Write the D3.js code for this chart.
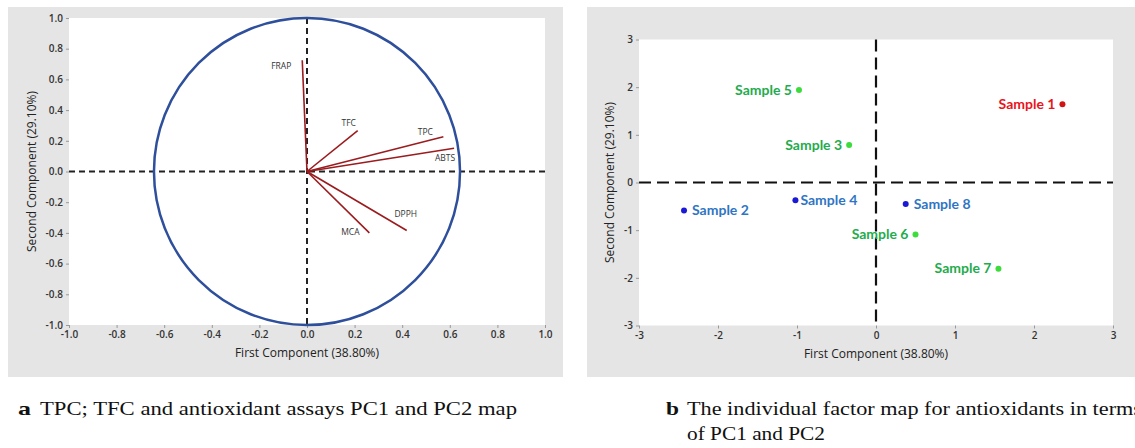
<!DOCTYPE html>
<html lang="en">
<head>
<meta charset="UTF-8">
<title>PCA maps</title>
<script src="https://d3js.org/d3.v7.min.js"></script>
<style>
  body { margin: 0; background: #fff; }
  svg { display: block; }
  .tick text { font-family: "Open Sans", sans-serif; font-size: 10px; fill: #333; font-weight: 600; }
  .tick line { stroke: #999; }
  .domain { display: none; }
</style>
</head>
<body>
<svg id="chart" width="1135" height="448"></svg>
<script>
// Loadings plot (panel a)
const variables = ["FRAP", "TFC", "TPC", "ABTS", "DPPH", "MCA"];
const loadPC1 = [-0.02, 0.213, 0.573, 0.618, 0.419, 0.262];
const loadPC2 = [0.725, 0.267, 0.226, 0.152, -0.384, -0.40];
const loadTicks = [-1.0, -0.8, -0.6, -0.4, -0.2, 0.0, 0.2, 0.4, 0.6, 0.8, 1.0];

// Score plot (panel b)
const samples = ["Sample 1", "Sample 2", "Sample 3", "Sample 4", "Sample 5", "Sample 6", "Sample 7", "Sample 8"];
const scorePC1 = [2.36, -2.43, -0.34, -1.02, -0.975, 0.50, 1.55, 0.376];
const scorePC2 = [1.64, -0.59, 0.786, -0.37, 1.94, -1.09, -1.81, -0.45];
const sampleGroup = ["red", "blue", "green", "blue", "green", "green", "green", "blue"];
const scoreTicks = [-3, -2, -1, 0, 1, 2, 3];

const svg = d3.select("#chart");

// ---------- panel a ----------
svg.append("rect").attr("x", 8).attr("y", 7).attr("width", 555).attr("height", 370).attr("fill", "#e5e5e5");

const xa = d3.scaleLinear().domain([-1, 1]).range([69, 545]);
const ya = d3.scaleLinear().domain([-1, 1]).range([325, 18]);

svg.append("rect")
    .attr("x", xa(-1)).attr("y", ya(1))
    .attr("width", xa(1) - xa(-1)).attr("height", ya(-1) - ya(1))
    .attr("fill", "#fff");

// plain hyphen for negatives, like the original
const fmt1 = d => d.toFixed(1);
svg.append("g")
    .attr("transform", `translate(0,${ya(-1)})`)
    .call(d3.axisBottom(xa).tickValues(loadTicks).tickSize(3).tickFormat(fmt1));
svg.append("g")
    .attr("transform", `translate(${xa(-1)},0)`)
    .call(d3.axisLeft(ya).tickValues(loadTicks).tickSize(3).tickFormat(fmt1));

// dashed reference lines
svg.append("line")
    .attr("x1", xa(-1)).attr("x2", xa(1)).attr("y1", ya(0)).attr("y2", ya(0))
    .attr("stroke", "#222").attr("stroke-width", 2).attr("stroke-dasharray", "6,4");
svg.append("line")
    .attr("x1", xa(0)).attr("x2", xa(0)).attr("y1", ya(1)).attr("y2", ya(-1))
    .attr("stroke", "#222").attr("stroke-width", 2).attr("stroke-dasharray", "6,4");

// circle (round in pixels, so its x radius in data units is smaller)
const circleRx = 0.643;
svg.append("ellipse")
    .attr("cx", xa(0)).attr("cy", ya(0))
    .attr("rx", xa(circleRx) - xa(0)).attr("ry", ya(0) - ya(1))
    .attr("fill", "none").attr("stroke", "#2e4f9b").attr("stroke-width", 2.5);

// loading vectors
const loadData = variables.map((v, i) => ({ name: v, x: loadPC1[i], y: loadPC2[i] }));
svg.selectAll(".vec")
    .data(loadData)
    .enter()
    .append("line")
    .attr("class", "vec")
    .attr("x1", xa(0)).attr("y1", ya(0))
    .attr("x2", d => xa(d.x)).attr("y2", d => ya(d.y))
    .attr("stroke", "#9b1c1f").attr("stroke-width", 1.6);

// label offsets in pixels relative to vector tip
const labelOffset = {
    FRAP: [-21, 7], TFC: [-9, -7], TPC: [-18, -4], ABTS: [-9, 11], DPPH: [-1, -16], MCA: [-19, 0]
};
svg.selectAll(".vlabel")
    .data(loadData)
    .enter()
    .append("text")
    .attr("x", d => xa(d.x) + labelOffset[d.name][0])
    .attr("y", d => ya(d.y) + labelOffset[d.name][1])
    .attr("text-anchor", "middle")
    .attr("dominant-baseline", "middle")
    .attr("font-family", "Open Sans, sans-serif")
    .attr("font-size", "8.5px")
    .attr("fill", "#333")
    .text(d => d.name);

svg.append("text")
    .attr("x", xa(0)).attr("y", 357)
    .attr("text-anchor", "middle")
    .attr("font-family", "Open Sans, sans-serif").attr("font-size", "12px").attr("fill", "#222")
    .text("First Component (38.80%)");
svg.append("text")
    .attr("transform", `translate(36,${ya(0)}) rotate(-90)`)
    .attr("text-anchor", "middle")
    .attr("font-family", "Open Sans, sans-serif").attr("font-size", "12px").attr("fill", "#222")
    .text("Second Component (29.10%)");

// ---------- panel b ----------
svg.append("rect").attr("x", 587).attr("y", 7).attr("width", 548).attr("height", 370).attr("fill", "#e5e5e5");

const xb = d3.scaleLinear().domain([-3, 3]).range([639, 1113]);
const yb = d3.scaleLinear().domain([-3, 3]).range([325.5, 39.5]);

svg.append("rect")
    .attr("x", xb(-3)).attr("y", yb(3))
    .attr("width", xb(3) - xb(-3)).attr("height", yb(-3) - yb(3))
    .attr("fill", "#fff");

svg.append("g")
    .attr("transform", `translate(0,${yb(-3)})`)
    .call(d3.axisBottom(xb).tickValues(scoreTicks).tickSize(3).tickFormat(d => String(d)));
svg.append("g")
    .attr("transform", `translate(${xb(-3)},0)`)
    .call(d3.axisLeft(yb).tickValues(scoreTicks).tickSize(3).tickFormat(d => String(d)));

svg.append("line")
    .attr("x1", xb(-3)).attr("x2", xb(3)).attr("y1", yb(0)).attr("y2", yb(0))
    .attr("stroke", "#111").attr("stroke-width", 2.2).attr("stroke-dasharray", "12,6");
svg.append("line")
    .attr("x1", xb(0)).attr("x2", xb(0)).attr("y1", yb(3)).attr("y2", yb(-3))
    .attr("stroke", "#111").attr("stroke-width", 2.2).attr("stroke-dasharray", "12,6");

const dotColor = { red: "#d11414", blue: "#1a1ad6", green: "#3ddc3d" };
const textColor = { red: "#e8141c", blue: "#2f75c4", green: "#23ab4c" };
// labels placed right of the dot for these
const labelRight = { "Sample 2": true, "Sample 4": true, "Sample 8": true };

const scoreData = samples.map((s, i) => ({ name: s, x: scorePC1[i], y: scorePC2[i], g: sampleGroup[i] }));

svg.selectAll(".dot")
    .data(scoreData)
    .enter()
    .append("circle")
    .attr("cx", d => xb(d.x)).attr("cy", d => yb(d.y))
    .attr("r", 3)
    .attr("fill", d => dotColor[d.g]);

svg.selectAll(".slabel")
    .data(scoreData)
    .enter()
    .append("text")
    .attr("x", d => xb(d.x) + (labelRight[d.name] ? (d.name === "Sample 4" ? 5 : 8) : -7))
    .attr("y", d => yb(d.y) + 1)
    .attr("text-anchor", d => labelRight[d.name] ? "start" : "end")
    .attr("dominant-baseline", "middle")
    .attr("font-family", "Lato, sans-serif")
    .attr("font-weight", "bold")
    .attr("font-size", "14px")
    .attr("fill", d => textColor[d.g])
    .text(d => d.name);

svg.append("text")
    .attr("x", xb(0)).attr("y", 358)
    .attr("text-anchor", "middle")
    .attr("font-family", "Open Sans, sans-serif").attr("font-size", "12px").attr("fill", "#222")
    .text("First Component (38.80%)");
svg.append("text")
    .attr("transform", `translate(614,${yb(0)}) rotate(-90)`)
    .attr("text-anchor", "middle")
    .attr("font-family", "Open Sans, sans-serif").attr("font-size", "12px").attr("fill", "#222")
    .text("Second Component (29.10%)");

// ---------- captions ----------
const capFont = "Liberation Serif, Times New Roman, serif";
function caption(x, y, txt, len, bold) {
    svg.append("text").attr("x", x).attr("y", y)
        .attr("font-family", capFont).attr("font-size", "19px").attr("fill", "#111")
        .attr("font-weight", bold ? "bold" : "normal")
        .attr("textLength", len).attr("lengthAdjust", "spacingAndGlyphs")
        .text(txt);
}
caption(18, 415, "a", 13, true);
caption(40, 415, "TPC; TFC and antioxidant assays PC1 and PC2 map", 477, false);
caption(666, 415, "b", 13, true);
caption(687, 415, "The individual factor map for antioxidants in terms", 455, false);
caption(687, 440, "of PC1 and PC2", 138, false);
</script>
</body>
</html>
